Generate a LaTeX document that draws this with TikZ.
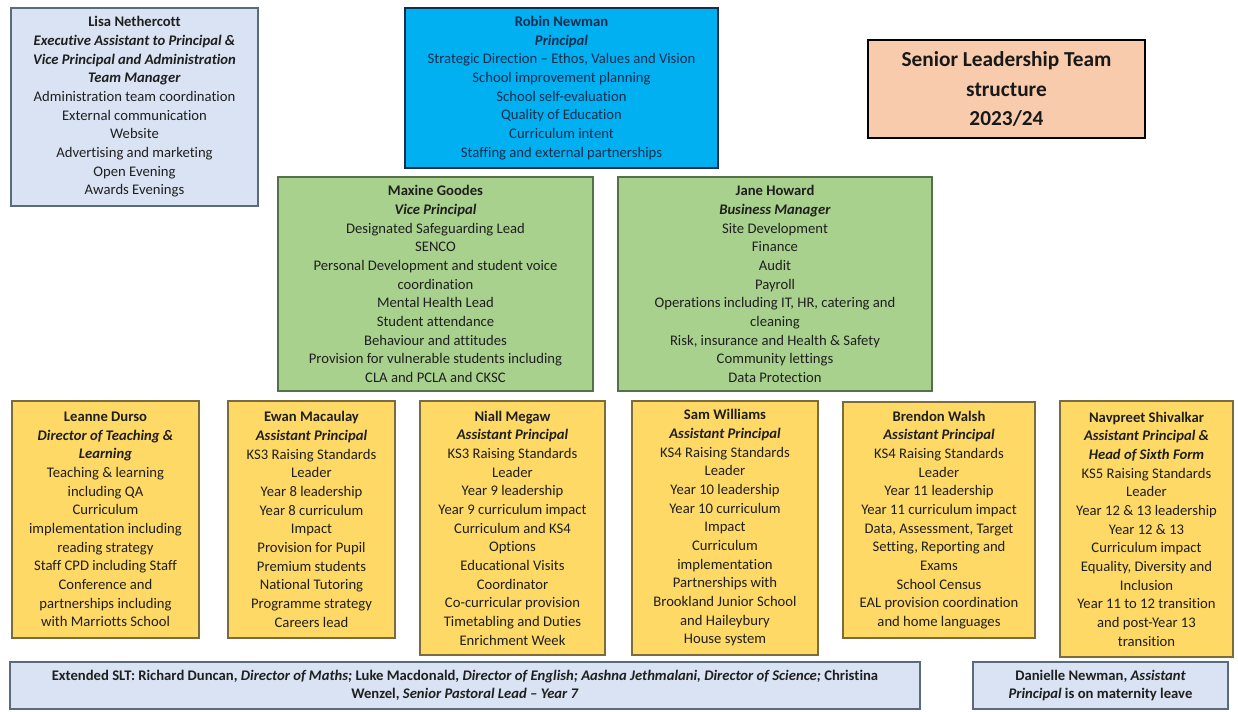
\documentclass[tikz,border=0pt]{standalone}
\usepackage{fontspec}
\setmainfont{Carlito}[Ligatures={NoCommon}]
\definecolor{paleblue}{HTML}{DAE3F3}
\definecolor{slate}{HTML}{5B6B7E}
\definecolor{brightblue}{HTML}{00B0F0}
\definecolor{navy}{HTML}{102E50}
\definecolor{peach}{HTML}{F8CBAD}
\definecolor{leaf}{HTML}{A9D18E}
\definecolor{moss}{HTML}{56704A}
\definecolor{gold}{HTML}{FFD966}
\definecolor{bark}{HTML}{7C6B3C}
\tikzset{
  sz/.style 2 args={minimum width=#1*0.75pt, minimum height=#2*0.75pt},
  box/.style={draw, line width=0.9pt, inner sep=0pt, align=center, text=black!88,
    font=\fontsize{11}{14}\selectfont},
  admin/.style={box, fill=paleblue, draw=slate},
  head/.style={box, fill=brightblue, draw=navy, text=navy},
  vice/.style={box, fill=leaf, draw=moss},
  ap/.style={box, fill=gold, draw=bark},
  note/.style={box, fill=paleblue, draw=slate, font=\bfseries\fontsize{11}{14}\selectfont},
  banner/.style={box, fill=peach, draw=black, line width=2.2pt, text=black!90,
    font=\bfseries\fontsize{16}{22}\selectfont},
}
\newcommand{\who}[1]{\textbf{#1}}
\newcommand{\role}[1]{\textbf{\textit{#1}}}

\begin{document}
\begin{tikzpicture}[x=0.75pt, y=-0.75pt]
  \useasboundingbox[fill=white] (0,0) rectangle (1238,711);
  \node[admin, sz={247}{198}] (lisa) at (134.5,107) {\who{Lisa Nethercott}\\
    \role{Executive Assistant to Principal \&}\\ \role{Vice Principal and Administration}\\
    \role{Team Manager}\\ Administration team coordination\\ External communication\\
    Website\\ Advertising and marketing\\ Open Evening\\ Awards Evenings};
  \node[head, sz={313}{160}] (robin) at (561.5,88) {\who{Robin Newman}\\ \role{Principal}\\
    Strategic Direction -- Ethos, Values and Vision\\ School improvement planning\\
    School self-evaluation\\ Quality of Education\\ Curriculum intent\\
    Staffing and external partnerships};
  \node[banner, sz={277}{98}] (title) at (1006.5,89) {Senior Leadership Team\\ structure\\ 2023/24};
  \node[vice, sz={315}{214}] (maxine) at (435.5,284) {\who{Maxine Goodes}\\ \role{Vice Principal}\\
    Designated Safeguarding Lead\\ SENCO\\ Personal Development and student voice\\
    coordination\\ Mental Health Lead\\ Student attendance\\ Behaviour and attitudes\\
    Provision for vulnerable students including\\ CLA and PCLA and CKSC};
  \node[vice, sz={314}{214}] (jane) at (775,284) {\who{Jane Howard}\\ \role{Business Manager}\\
    Site Development\\ Finance\\ Audit\\ Payroll\\ Operations including IT, HR, catering and\\
    cleaning\\ Risk, insurance and Health \& Safety\\ Community lettings\\ Data Protection};
  \node[ap, sz={187}{237}] (leanne) at (105.5,519.5) {\who{Leanne Durso}\\
    \role{Director of Teaching \&}\\ \role{Learning}\\ Teaching \& learning\\ including QA\\
    Curriculum\\ implementation including\\ reading strategy\\ Staff CPD including Staff\\
    Conference and\\ partnerships including\\ with Marriotts School};
  \node[ap, sz={167}{237}] (ewan) at (311.5,519.5) {\who{Ewan Macaulay}\\ \role{Assistant Principal}\\
    KS3 Raising Standards\\ Leader\\ Year 8 leadership\\ Year 8 curriculum\\ Impact\\
    Provision for Pupil\\ Premium students\\ National Tutoring\\ Programme strategy\\ Careers lead};
  \node[ap, sz={185}{254}] (niall) at (512.5,528) {\who{Niall Megaw}\\ \role{Assistant Principal}\\
    KS3 Raising Standards\\ Leader\\ Year 9 leadership\\ Year 9 curriculum impact\\
    Curriculum and KS4\\ Options\\ Educational Visits\\ Coordinator\\ Co-curricular provision\\
    Timetabling and Duties\\ Enrichment Week};
  \node[ap, sz={186}{254}] (sam) at (725,528) {\who{Sam Williams}\\ \role{Assistant Principal}\\
    KS4 Raising Standards\\ Leader\\ Year 10 leadership\\ Year 10 curriculum\\ Impact\\
    Curriculum\\ implementation\\ Partnerships with\\ Brookland Junior School\\
    and Haileybury\\ House system};
  \node[ap, sz={192}{236}] (brendon) at (939,520) {\who{Brendon Walsh}\\ \role{Assistant Principal}\\
    KS4 Raising Standards\\ Leader\\ Year 11 leadership\\ Year 11 curriculum impact\\
    Data, Assessment, Target\\ Setting, Reporting and\\ Exams\\ School Census\\
    EAL provision coordination\\ and home languages};
  \node[ap, sz={173}{256}] (navpreet) at (1146.5,529) {\who{Navpreet Shivalkar}\\
    \role{Assistant Principal \&}\\ \role{Head of Sixth Form}\\ KS5 Raising Standards\\ Leader\\
    Year 12 \& 13 leadership\\ Year 12 \& 13\\ Curriculum impact\\ Equality, Diversity and\\
    Inclusion\\ Year 11 to 12 transition\\ and post-Year 13\\ transition};
  \node[note, sz={910}{47}] (extended) at (465,685.5) {Extended SLT: Richard Duncan,
    \textit{Director of Maths;} Luke Macdonald, \textit{Director of English; Aashna Jethmalani,
    Director of Science;} Christina\\ Wenzel, \textit{Senior Pastoral Lead -- Year 7}};
  \node[note, sz={255}{47}] (danielle) at (1100.5,685.5) {Danielle Newman, \textit{Assistant}\\
    \textit{Principal} is on maternity leave};
\end{tikzpicture}
\end{document}
